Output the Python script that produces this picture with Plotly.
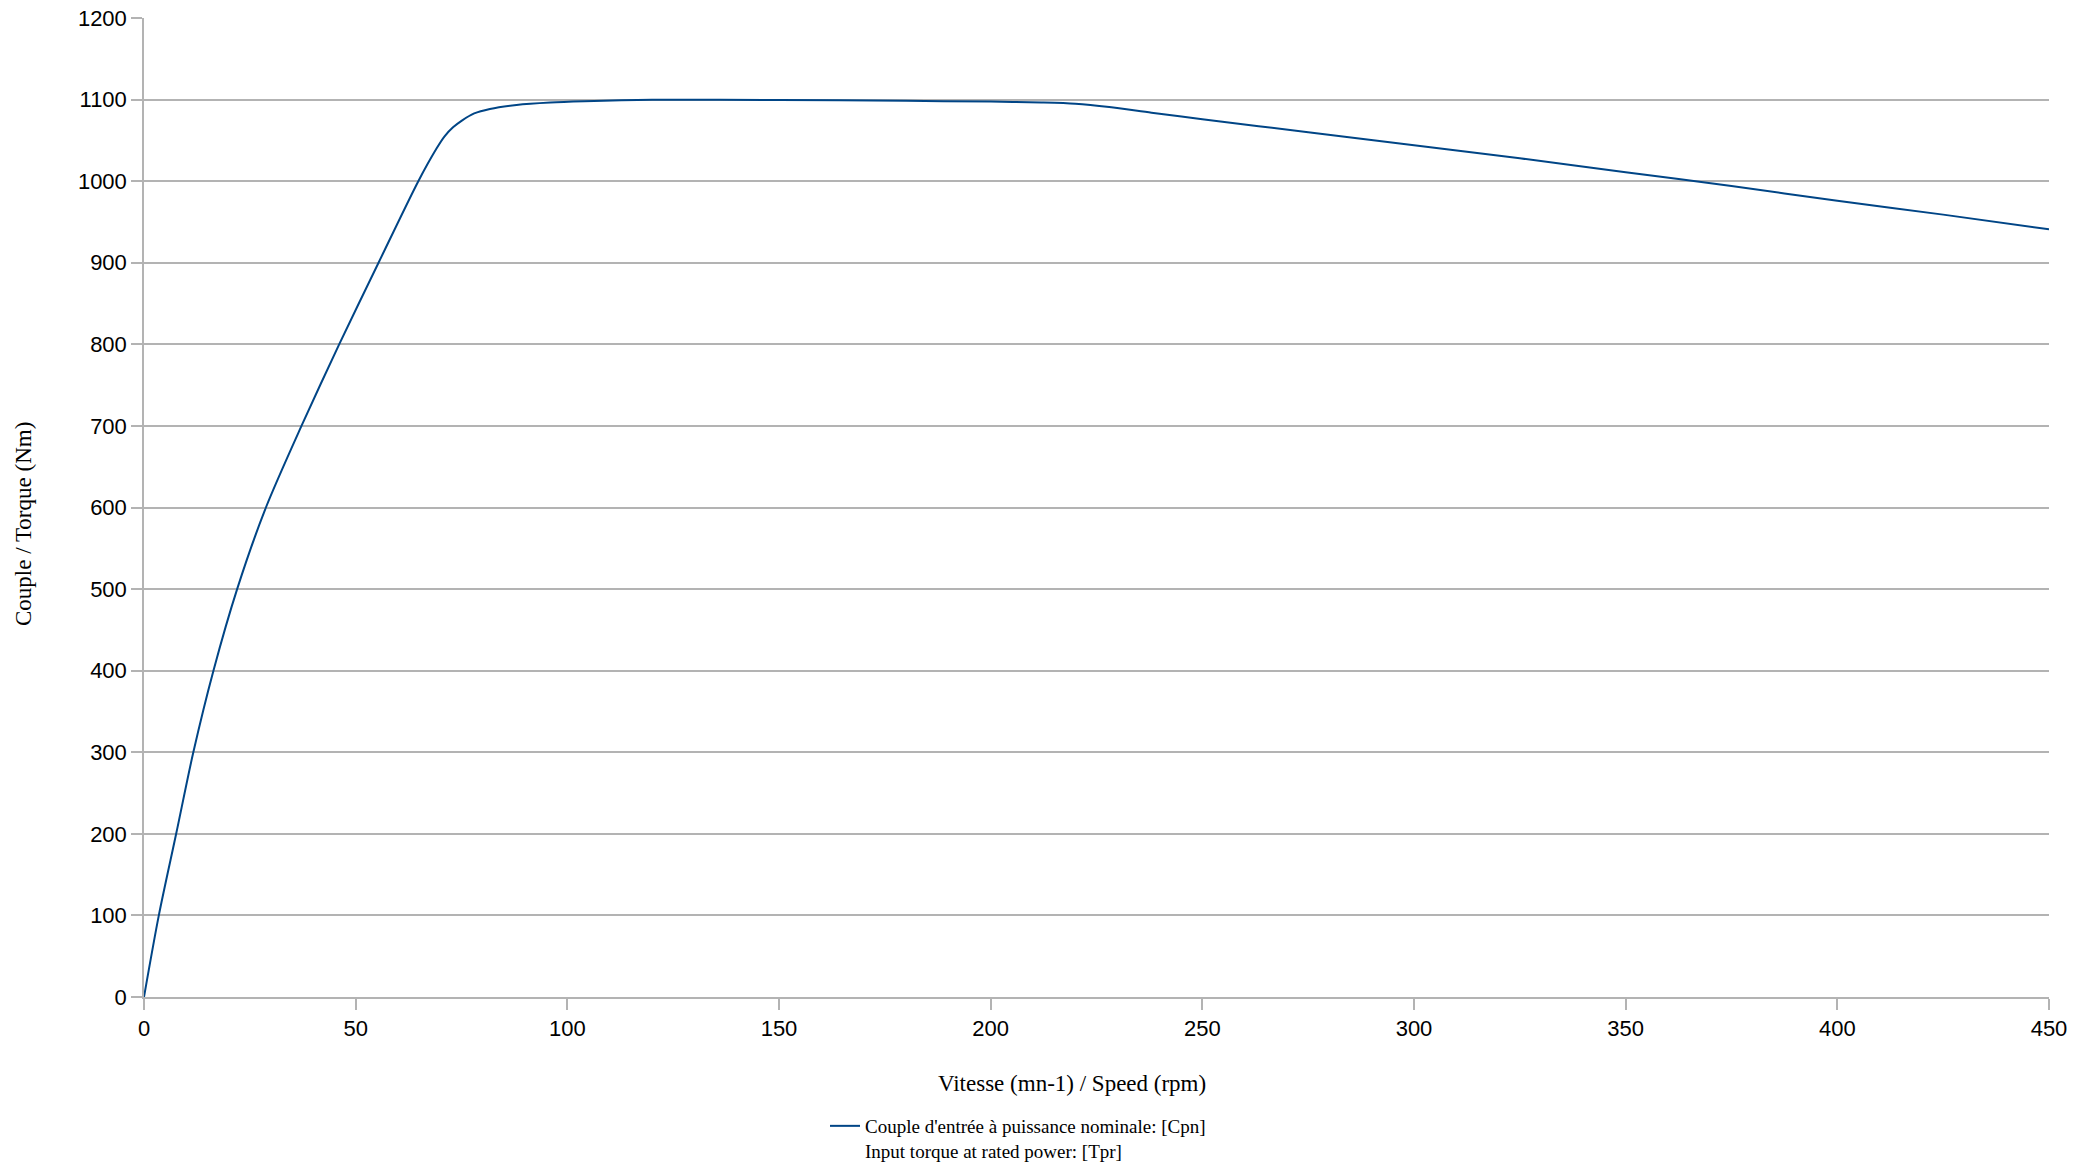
import plotly.graph_objects as go

# Speed (rpm) and input torque at rated power (Nm)
speed = [0, 3.5, 7.6, 11.65, 16.4, 22, 28.8, 37.2, 46.1, 55.4, 64.8, 69.1, 71,
         73, 75, 78, 81.7, 88, 96, 104, 120, 150, 180, 200, 212, 220, 228, 238, 250,
         275, 300, 325, 350, 375, 400, 425, 450]
torque = [0, 100, 200, 300, 400, 500, 600, 700, 800, 900, 1000, 1040, 1055,
          1066, 1074, 1083, 1088.5, 1093.5, 1096.5, 1098, 1099.7, 1099.5, 1098.5,
          1097.5, 1096.5, 1095, 1091, 1084, 1076, 1060, 1044, 1028, 1011, 994, 976,
          959, 941]

series_name = "Couple d'entrée à puissance nominale: [Cpn]<br>Input torque at rated power: [Tpr]"
x_title = "Vitesse (mn-1) / Speed (rpm)"
y_title = "Couple / Torque (Nm)"
x_ticks = [0, 50, 100, 150, 200, 250, 300, 350, 400, 450]
y_ticks = [0, 100, 200, 300, 400, 500, 600, 700, 800, 900, 1000, 1100, 1200]

# page body keeps its default 8px margin, so the figure is slightly smaller
W, H = 2084, 1159
L, R, T, B = 136, 43, 10, 170
pw, ph = W - L - R, H - T - B
bottom = T + ph

serif = "Liberation Serif, Times New Roman, serif"
grid = "#b3b3b3"

fig = go.Figure()
fig.add_trace(go.Scatter(
    x=speed, y=torque, mode="lines", name=series_name,
    line=dict(color="#004586", width=2, shape="spline", smoothing=0.8),
    showlegend=True,
))

fig.update_layout(
    width=W, height=H,
    margin=dict(l=L, r=R, t=T, b=B, autoexpand=False),
    paper_bgcolor="white", plot_bgcolor="white",
    font=dict(family="Liberation Sans, Arial, sans-serif", size=22, color="black"),
    xaxis=dict(
        range=[0, 450], tickvals=x_ticks, ticktext=[str(v) for v in x_ticks],
        showgrid=False, zeroline=False, ticklabeloverflow="allow",
        showline=True, linecolor=grid, linewidth=1.5,
        ticks="outside", ticklen=11, tickcolor=grid, tickwidth=1.5,
    ),
    yaxis=dict(
        range=[0, 1200], tickvals=y_ticks, ticktext=[str(v) for v in y_ticks],
        showgrid=True, gridcolor=grid, gridwidth=1.5, zeroline=False,
        ticklabeloverflow="allow",
        showline=True, linecolor=grid, linewidth=1.5,
        ticks="outside", ticklen=11, tickcolor=grid, tickwidth=1.5,
    ),
    legend=dict(
        x=(817 - L) / pw, y=-(1099 - bottom) / ph, xanchor="left", yanchor="top",
        font=dict(family=serif, size=19, color="black"),
        bgcolor="rgba(0,0,0,0)", itemwidth=30, valign="top",
    ),
    annotations=[
        dict(text=x_title, xref="paper", yref="paper",
             x=(1064 - L) / pw, y=(bottom - 1075) / ph,
             xanchor="center", yanchor="middle", showarrow=False,
             font=dict(family=serif, size=23, color="black")),
        dict(text=y_title, xref="paper", yref="paper",
             x=(15 - L) / pw, y=(bottom - 516) / ph, textangle=-90,
             xanchor="center", yanchor="middle", showarrow=False,
             font=dict(family=serif, size=23, color="black")),
    ],
)

fig.write_html("out.html")
